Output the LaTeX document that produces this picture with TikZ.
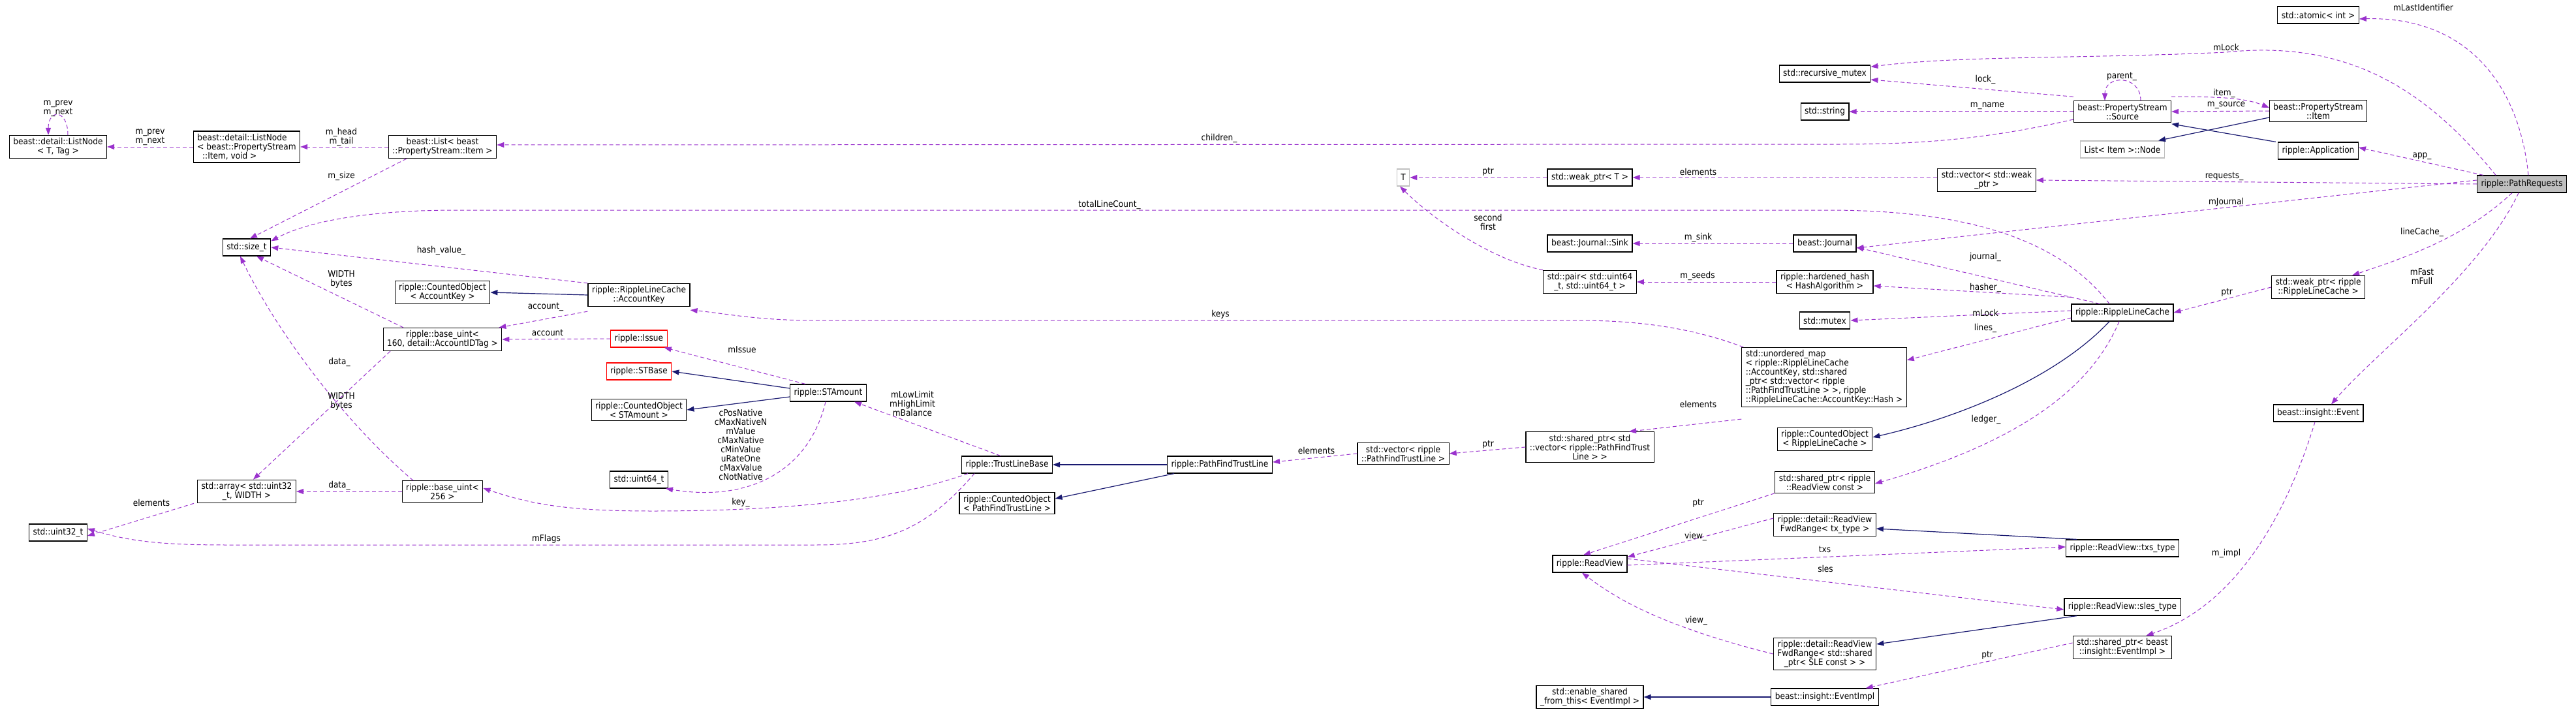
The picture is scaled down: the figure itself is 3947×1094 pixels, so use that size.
\documentclass[tikz,border=0pt]{standalone}
\usepackage{fontspec}
\usepackage{xcolor}
\usepackage{tikz}
\usetikzlibrary{positioning, arrows.meta}
\newfontfamily\doxfam{DejaVu Sans Condensed}
\newcommand{\doxfont}{\doxfam\fontsize{13.5}{14}\selectfont}
\definecolor{usecol}{HTML}{9A32CD}
\definecolor{inhcol}{HTML}{191970}
\definecolor{extcol}{HTML}{BFBFBF}
\tikzstyle{cls} = [rectangle, draw=black, fill=white, font=\doxfont, align=center,
    inner xsep=6pt, inner ysep=4pt, minimum height=26pt, line width=1.2pt]
\tikzstyle{ext} = [cls, draw=extcol]
\tikzstyle{undoc} = [cls, draw=red]
\tikzstyle{use} = [draw=usecol, ->, line width=1pt, dash pattern=on 6pt off 4pt]
\tikzstyle{inh} = [draw=inhcol, ->, line width=1.2pt]
\tikzstyle{lbl} = [font=\doxfont, align=center, inner sep=1pt]

\begin{document}
\begin{tikzpicture}[x=1pt, y=-1pt, >={Triangle[length=11pt, width=8pt]}]
            \useasboundingbox (0,0) rectangle (3947,1094);
            % Nodes
            \node [cls] (lnT) at (89,225) {beast::detail::ListNode\\< T, Tag >};
            \node [cls, align=left, right of=lnT, node distance=289pt] (lnItem) {beast::detail::ListNode\\< beast::PropertyStream\\\ \ ::Item, void >};
            \node [cls, right of=lnItem, node distance=300pt] (listItem) {beast::List< beast\\::PropertyStream::Item >};
            \node [cls] (size) at (378,379) {std::size\_t};
            \node [cls] (cntAK) at (678,448) {ripple::CountedObject\\< AccountKey >};
            \node [cls] (acctKey) at (979,452) {ripple::RippleLineCache\\::AccountKey};
            \node [cls] (bu160) at (678,520) {ripple::base\_uint<\\ 160, detail::AccountIDTag >};
            \node [undoc] (issue) at (979,519) {ripple::Issue};
            \node [undoc] (stBase) at (979,569) {ripple::STBase};
            \node [cls] (cntSTA) at (979,628) {ripple::CountedObject\\< STAmount >};
            \node [cls] (u64) at (979,735) {std::uint64\_t};
            \node [cls] (arr) at (378,753) {std::array< std::uint32\\\_t, WIDTH >};
            \node [cls, right of=arr, node distance=300pt] (bu256) {ripple::base\_uint<\\256 >};
            \node [cls] (u32) at (89,816) {std::uint32\_t};
            \node [cls] (stAmt) at (1269,602) {ripple::STAmount};
            \node [cls] (tlBase) at (1543,712) {ripple::TrustLineBase};
            \node [cls, right of=tlBase, node distance=326pt] (pftl) {ripple::PathFindTrustLine};
            \node [cls] (cntPFTL) at (1543,771) {ripple::CountedObject\\< PathFindTrustLine >};
            \node [cls] (vecPFTL) at (2150,695) {std::vector< ripple\\::PathFindTrustLine >};
            \node [cls] (shVec) at (2436,685) {std::shared\_ptr< std\\::vector< ripple::PathFindTrust\\Line > >};
            \node [cls, align=left] (umap) at (2795,578) {std::unordered\_map\\< ripple::RippleLineCache\\::AccountKey, std::shared\\\_ptr< std::vector< ripple\\::PathFindTrustLine > >, ripple\\::RippleLineCache::AccountKey::Hash >};
            \node [cls] (cntRLC) at (2796,673) {ripple::CountedObject\\< RippleLineCache >};
            \node [cls] (shRV) at (2796,739) {std::shared\_ptr< ripple\\::ReadView const >};
            \node [cls] (fwdTx) at (2796,804) {ripple::detail::ReadView\\FwdRange< tx\_type >};
            \node [cls] (rView) at (2436,864) {ripple::ReadView};
            \node [cls] (fwdSle) at (2796,1002) {ripple::detail::ReadView\\FwdRange< std::shared\\\_ptr< SLE const > >};
            \node [cls] (enShared) at (2436,1068) {std::enable\_shared\\\_from\_this< EventImpl >};
            \node [cls] (evImpl) at (2796,1068) {beast::insight::EventImpl};
            \node [cls] (recMutex) at (2796,113) {std::recursive\_mutex};
            \node [cls] (str) at (2796,171) {std::string};
            \node [ext] (tT) at (2150,272) {T};
            \node [cls] (weakT) at (2436,272) {std::weak\_ptr< T >};
            \node [cls] (sink) at (2436,373) {beast::Journal::Sink};
            \node [cls] (journal) at (2796,373) {beast::Journal};
            \node [cls] (pair) at (2436,432) {std::pair< std::uint64\\\_t, std::uint64\_t >};
            \node [cls] (hHash) at (2796,432) {ripple::hardened\_hash\\< HashAlgorithm >};
            \node [cls] (mutex) at (2796,491) {std::mutex};
            \node [cls] (atomic) at (3552,23) {std::atomic< int >};
            \node [cls] (source) at (3252,171) {beast::PropertyStream\\::Source};
            \node [cls] (psItem) at (3552,170) {beast::PropertyStream\\::Item};
            \node [ext] (itemNode) at (3252,229) {List< Item >::Node};
            \node [cls] (app) at (3552,231) {ripple::Application};
            \node [cls] (vecWeak) at (3044,276) {std::vector< std::weak\\\_ptr >};
            \node [cls, fill=extcol] (pathReq) at (3864,282) {ripple::PathRequests};
            \node [cls] (weakRLC) at (3552,440) {std::weak\_ptr< ripple\\::RippleLineCache >};
            \node [cls] (rlc) at (3252,479) {ripple::RippleLineCache};
            \node [cls] (event) at (3552,633) {beast::insight::Event};
            \node [cls] (txsType) at (3252,840) {ripple::ReadView::txs\_type};
            \node [cls] (slesType) at (3252,930) {ripple::ReadView::sles\_type};
            \node [cls] (shEvImpl) at (3252,992) {std::shared\_ptr< beast\\::insight::EventImpl >};

            % Inheritance
            \draw [inh] (acctKey.west) -- (cntAK.east);
            \draw [inh] ([yshift=7pt]stAmt.west) -- (stBase.east);
            \draw [inh] ([yshift=-6pt]stAmt.west) -- (cntSTA.east);
            \draw [inh] (pftl.west) -- (tlBase.east);
            \draw [inh] ([xshift=-70pt]pftl.south) -- ([yshift=7pt]cntPFTL.east);
            \draw [inh] ([xshift=-20pt]rlc.south) .. controls (3150,580) and (3000,640) .. ([yshift=3pt]cntRLC.east);
            \draw [inh] ([xshift=-70pt]txsType.north) -- ([yshift=-6pt]fwdTx.east);
            \draw [inh] ([xshift=-70pt]slesType.south) -- ([yshift=15pt]fwdSle.east);
            \draw [inh] (evImpl.west) -- (enShared.east);
            \draw [inh] ([yshift=-10pt]psItem.west) -- ([xshift=-10pt]itemNode.north east);
            \draw [inh] ([xshift=-65pt]app.north) -- ([yshift=-2pt]source.south east);

            % Members
            \draw [use] ([xshift=15pt]lnT.north) .. controls +(0,-40) and +(0,-40) .. ([xshift=-15pt]lnT.north)
                node [lbl] at (89,166) {m\_prev\\m\_next};
            \draw [use] (lnItem.west) -- (lnT.east) node [lbl] at (230,210) {m\_prev\\m\_next};
            \draw [use] (listItem.west) -- (lnItem.east) node [lbl] at (523,210) {m\_head\\m\_tail};
            \draw [use] ([xshift=-55pt]listItem.south) -- ([xshift=5pt]size.north) node [lbl] at (523,270) {m\_size};
            \draw [use] ([yshift=-12pt]source.west) .. controls (3050,212) and (2950,221) .. (2820,221) -- ([yshift=3pt]listItem.east)
                node [lbl] at (1868,212) {children\_};
            \draw [use] ([xshift=-20pt]rlc.north) .. controls (3150,360) and (3000,322) .. (2800,322) -- (700,322)
                .. controls (560,322) and (470,340) .. ([yshift=-4pt]size.north east)
                node [lbl] at (1700,314) {totalLineCount\_};
            \draw [use] (acctKey.north west) -- (size.east) node [lbl] at (676,384) {hash\_value\_};
            \draw [use] ([yshift=-7pt]acctKey.south west) -- ([xshift=-5pt]bu160.north east) node [lbl] at (836,470) {account\_};
            \draw [use] (issue.west) -- (bu160.east) node [lbl] at (839,510) {account};
            \draw [use] ([xshift=-60pt]bu160.north) -- ([xshift=15pt]size.south) node [lbl] at (523,428) {WIDTH\\bytes};
            \draw [use] ([xshift=-80pt]bu160.south) -- ([xshift=10pt]arr.north) node [lbl] at (520,555) {data\_};
            \draw [use] ([xshift=-45pt]bu256.north) .. controls (520,640) and (420,500) .. ([xshift=-10pt]size.south)
                node [lbl] at (523,615) {WIDTH\\bytes};
            \draw [use] (bu256.west) -- (arr.east) node [lbl] at (520,744) {data\_};
            \draw [use] ([xshift=-5pt]arr.south west) -- ([yshift=-5pt]u32.east) node [lbl] at (232,770) {elements};
            \draw [use] ([xshift=-50pt]tlBase.south) .. controls (1420,810) and (1360,835) .. (1250,835) -- (350,835)
                .. controls (250,835) and (200,830) .. ([yshift=6pt]u32.east)
                node [lbl] at (837,826) {mFlags};
            \draw [use] ([xshift=-60pt]tlBase.south) .. controls (1360,770) and (1180,783) .. (1000,783)
                .. controls (880,783) and (820,775) .. ([yshift=5pt]bu256.east)
                node [lbl] at (1135,770) {key\_};
            \draw [use] ([xshift=-35pt]stAmt.north) -- ([xshift=-5pt]issue.south east) node [lbl] at (1137,536) {mIssue};
            \draw [use] ([xshift=-4pt]stAmt.south) .. controls (1240,720) and (1150,770) .. ([xshift=-4pt]u64.south east)
                node [lbl] at (1135,681) {cPosNative\\cMaxNativeN\\mValue\\cMaxNative\\cMinValue\\uRateOne\\cMaxValue\\cNotNative};
            \draw [use] ([xshift=-10pt]tlBase.north) -- ([xshift=40pt]stAmt.south) node [lbl] at (1398,618) {mLowLimit\\mHighLimit\\mBalance};
            \draw [use] (vecPFTL.west) -- ([yshift=4pt]pftl.east) node [lbl] at (2017,690) {elements};
            \draw [use] (shVec.west) -- (vecPFTL.east) node [lbl] at (2280,681) {ptr};
            \draw [use] ([yshift=-18pt]umap.south west) -- ([xshift=60pt]shVec.north) node [lbl] at (2602,619) {elements};
            \draw [use] ([xshift=3pt]umap.north west) .. controls (2600,505) and (2520,491) .. (2420,491) -- (1250,491)
                .. controls (1160,491) and (1110,480) .. ([yshift=-5pt]acctKey.south east)
                node [lbl] at (1870,482) {keys};
            \draw [use] ([yshift=-8pt]rlc.west) -- ([yshift=-20pt]umap.north east) node [lbl] at (3042,503) {lines\_};
            \draw [use] ([xshift=-5pt]rlc.south) .. controls (3210,580) and (3120,670) .. ([yshift=-2pt]shRV.east)
                node [lbl] at (3043,643) {ledger\_};
            \draw [use] ([yshift=3pt]rlc.west) -- (mutex.east) node [lbl] at (3042,479) {mLock};
            \draw [use] ([yshift=10pt]rlc.north west) -- ([yshift=-6pt]hHash.east) node [lbl] at (3042,441) {hasher\_};
            \draw [use] ([xshift=-35pt]rlc.north) -- ([yshift=-6pt]journal.east) node [lbl] at (3042,394) {journal\_};
            \draw [use] (hHash.west) -- (pair.east) node [lbl] at (2601,423) {m\_seeds};
            \draw [use] (pair.north west) .. controls (2290,400) and (2200,340) .. ([xshift=-5pt]tT.south)
                node [lbl] at (2280,340) {second\\first};
            \draw [use] (weakT.west) -- (tT.east) node [lbl] at (2280,263) {ptr};
            \draw [use] ([yshift=4pt]vecWeak.west) -- (weakT.east) node [lbl] at (2602,263) {elements};
            \draw [use] (journal.west) -- (sink.east) node [lbl] at (2602,364) {m\_sink};
            \draw [use] ([yshift=6pt]source.north west) -- ([yshift=-9pt]recMutex.east) node [lbl] at (3042,122) {lock\_};
            \draw [use] (source.west) -- (str.east) node [lbl] at (3045,162) {m\_name};
            \draw [use] ([xshift=28pt]source.north) .. controls +(0,-40) and +(0,-40) .. ([xshift=-27pt]source.north)
                node [lbl] at (3251,117) {parent\_};
            \draw [use] ([yshift=6pt]source.north east) .. controls (3400,148) and (3440,150) .. ([yshift=5pt]psItem.west)
                node [lbl] at (3408,143) {item\_};
            \draw [use] (psItem.west) -- (source.east) node [lbl] at (3411,161) {m\_source};
            \draw [use] ([xshift=-40pt]pathReq.north) .. controls (3720,140) and (3600,60) .. (3411,80)
                .. controls (3200,90) and (3000,85) .. ([yshift=-3pt]recMutex.north east)
                node [lbl] at (3411,72) {mLock};
            \draw [use] ([xshift=10pt]pathReq.north) .. controls (3860,130) and (3780,25) .. ([yshift=-6pt]atomic.east)
                node [lbl] at (3713,11) {mLastIdentifier};
            \draw [use] ([xshift=10pt]pathReq.north west) -- ([yshift=5pt]app.east) node [lbl] at (3711,239) {app\_};
            \draw [use] (pathReq.west) -- (vecWeak.east) node [lbl] at (3408,270) {requests\_};
            \draw [use] ([yshift=6pt]pathReq.west) -- ([yshift=-7pt]journal.east) node [lbl] at (3411,310) {mJournal};
            \draw [use] ([xshift=-15pt]pathReq.south) .. controls (3780,360) and (3700,390) .. ([xshift=-20pt]weakRLC.north east)
                node [lbl] at (3711,356) {lineCache\_};
            \draw [use] ([xshift=-5pt]pathReq.south) .. controls (3800,420) and (3640,540) .. ([xshift=20pt]event.north)
                node [lbl] at (3711,424) {mFast\\mFull};
            \draw [use] (weakRLC.west) -- (rlc.east) node [lbl] at (3412,448) {ptr};
            \draw [use] ([xshift=-5pt]event.south) .. controls (3500,800) and (3420,930) .. ([xshift=-40pt]shEvImpl.north east)
                node [lbl] at (3411,848) {m\_impl};
            \draw [use] ([yshift=7pt]shEvImpl.west) -- ([xshift=-20pt]evImpl.north east) node [lbl] at (3045,1004) {ptr};
            \draw [use] (shRV.south west) -- ([xshift=-10pt]rView.north) node [lbl] at (2602,771) {ptr};
            \draw [use] ([yshift=10pt]fwdTx.west) -- ([yshift=-3pt]rView.north east) node [lbl] at (2598,822) {view\_};
            \draw [use] (fwdSle.west) .. controls (2550,960) and (2480,920) .. ([xshift=-12pt]rView.south)
                node [lbl] at (2599,951) {view\_};
            \draw [use] ([yshift=-2pt]rView.east) -- ([yshift=2pt]txsType.west) node [lbl] at (2796,842) {txs};
            \draw [use] ([yshift=8pt]rView.east) -- ([yshift=-4pt]slesType.west) node [lbl] at (2797,871) {sles};

        \end{tikzpicture}
\end{document}
